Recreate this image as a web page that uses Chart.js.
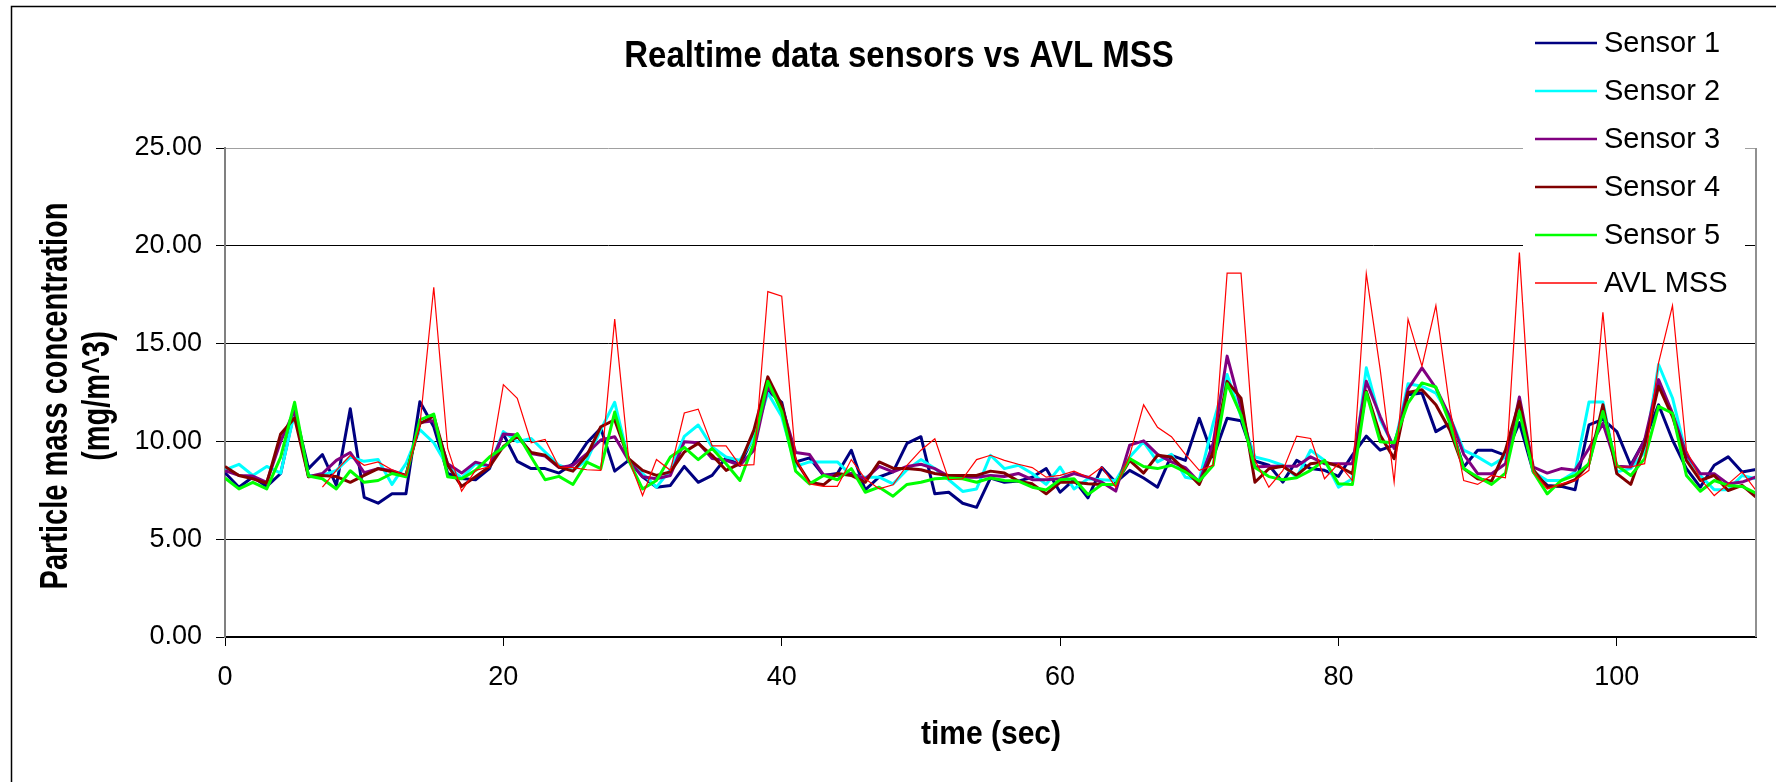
<!DOCTYPE html>
<html><head><meta charset="utf-8">
<script src="https://cdn.jsdelivr.net/npm/chart.js@4.4.0/dist/chart.umd.min.js"></script>
<style>html,body{margin:0;padding:0;background:#fff;overflow:hidden}canvas{display:block}</style>
</head><body>
<canvas id="c" width="1776" height="782"></canvas>
<script>
const times = [0,1,2,3,4,5,6,7,8,9,10,11,12,13,14,15,16,17,18,19,20,21,22,23,24,25,26,27,28,29,30,31,32,33,34,35,36,37,38,39,40,41,42,43,44,45,46,47,48,49,50,51,52,53,54,55,56,57,58,59,60,61,62,63,64,65,66,67,68,69,70,71,72,73,74,75,76,77,78,79,80,81,82,83,84,85,86,87,88,89,90,91,92,93,94,95,96,97,98,99,100,101,102,103,104,105,106,107,108,109,110];

const sensor1 = [8.40,7.66,8.18,7.70,8.36,11.60,8.61,9.33,7.75,11.67,
7.14,6.84,7.32,7.32,12.03,10.75,8.36,8.10,8.04,8.61,
10.38,8.98,8.61,8.61,8.38,8.86,9.93,10.67,8.48,9.03,
8.19,7.66,7.75,8.72,7.91,8.26,9.17,8.78,10.30,12.60,
12.00,8.95,9.16,8.26,8.36,9.55,7.52,8.18,8.44,9.90,
10.24,7.32,7.40,6.84,6.63,8.13,7.91,7.97,8.17,8.61,
7.40,8.04,7.11,8.66,7.91,8.52,8.13,7.66,9.29,9.03,
11.18,9.20,11.18,11.06,9.00,8.78,7.92,9.03,8.61,8.52,
8.21,9.30,10.27,9.55,9.81,12.39,12.47,10.50,10.92,8.69,
9.55,9.55,9.29,10.96,8.44,7.75,7.70,7.53,10.84,11.13,
10.50,8.78,10.07,11.87,10.07,8.61,7.66,8.78,9.21,8.44,
8.56];

const sensor2 = [8.55,8.83,8.26,8.72,8.38,11.48,8.26,8.26,8.52,9.20,
8.98,9.07,7.80,8.86,10.60,9.93,8.71,8.13,8.86,8.70,
10.50,9.98,10.15,9.46,8.78,8.52,9.03,10.60,12.00,9.03,
8.36,7.66,8.55,10.26,10.84,9.72,9.20,9.03,10.20,12.47,
11.27,8.72,8.95,8.95,8.95,8.26,8.17,8.17,7.83,8.55,
9.07,8.61,8.04,7.44,7.57,9.29,8.61,8.78,8.36,7.80,
8.69,7.57,8.09,8.04,8.00,9.20,9.98,8.95,9.34,8.17,
8.04,10.93,13.42,11.27,9.20,9.03,8.78,8.17,9.55,9.03,
7.66,8.09,13.76,11.10,9.72,12.95,12.82,12.47,11.27,9.55,
9.21,8.78,9.21,11.79,8.44,8.00,8.00,8.44,12.01,12.01,
8.44,8.61,9.46,13.93,12.22,9.29,8.26,7.53,7.53,8.26,
8.09];

const sensor3 = [8.50,8.26,8.23,7.91,10.00,11.60,8.20,8.36,9.03,9.43,
8.40,8.61,8.50,8.26,10.96,11.06,8.86,8.38,8.94,8.75,
10.38,10.33,9.38,9.25,8.66,8.78,9.38,10.07,10.24,9.03,
8.19,8.09,8.26,9.98,9.93,9.12,9.03,8.78,9.55,12.80,
11.80,9.43,9.33,8.29,8.26,8.36,8.09,8.72,8.44,8.72,
8.83,8.61,8.21,8.17,8.17,8.26,8.21,8.36,8.04,8.04,
8.09,8.36,8.17,7.91,7.46,9.81,10.03,9.34,8.95,8.66,
7.91,9.90,14.36,11.70,8.69,8.73,8.73,8.73,9.21,8.86,
8.86,8.86,13.07,11.27,9.64,12.68,13.76,12.73,11.27,9.34,
8.35,8.35,8.86,12.27,8.69,8.38,8.61,8.52,9.64,10.93,
8.73,8.69,10.07,13.16,11.44,9.34,8.35,8.35,7.83,7.92,
8.18];

const sensor4 = [8.72,8.26,8.09,7.86,10.38,11.20,8.19,8.26,8.20,7.91,
8.26,8.61,8.44,8.26,10.90,11.30,8.78,7.70,8.19,8.70,
9.74,10.26,9.43,9.29,8.69,8.48,9.29,10.75,11.10,9.12,
8.52,8.26,8.44,9.46,9.90,9.29,8.52,8.86,10.58,13.30,
11.87,9.03,7.91,7.78,8.36,8.26,7.91,8.95,8.63,8.61,
8.55,8.36,8.26,8.26,8.26,8.48,8.38,7.97,7.83,7.32,
7.91,7.91,7.83,7.80,7.80,9.03,8.38,9.29,9.20,8.52,
7.80,9.46,13.07,12.21,7.91,8.60,8.73,8.26,8.86,8.95,
8.73,8.35,12.56,10.32,9.12,12.50,12.64,11.87,10.58,8.61,
8.09,7.97,9.55,12.04,8.56,7.66,7.75,8.04,8.86,11.87,
8.35,7.80,9.81,12.82,11.27,9.03,8.00,8.26,7.49,7.75,
7.15];

const sensor5 = [8.13,7.57,7.91,7.57,9.20,12.00,8.23,8.09,7.57,8.50,
7.91,8.00,8.36,8.19,11.10,11.40,8.19,8.09,8.52,9.20,
9.69,10.40,9.20,8.04,8.21,7.80,8.94,8.61,11.50,9.03,
7.57,8.00,9.20,9.69,9.07,9.64,8.86,8.00,9.90,13.07,
11.52,8.48,7.83,8.26,8.04,8.61,7.40,7.66,7.20,7.80,
7.91,8.09,8.13,8.09,7.91,8.13,8.00,7.97,7.66,7.52,
8.04,8.09,7.28,7.80,7.80,9.12,8.72,8.61,8.78,8.44,
7.97,8.78,12.95,11.35,8.66,8.20,8.04,8.14,8.52,9.03,
7.83,7.80,12.50,9.98,9.93,11.96,12.99,12.78,10.93,8.61,
8.18,7.80,8.38,11.53,8.44,7.32,8.00,8.26,8.86,11.53,
8.78,8.26,9.12,11.79,11.44,8.26,7.45,8.00,7.75,7.70,
7.35];

const avlMss = [null,null,null,null,null,null,null,7.66,8.52,9.29,
8.78,8.95,8.55,8.26,10.80,17.88,9.64,7.46,8.52,8.70,
12.90,12.20,9.93,10.10,8.69,8.66,8.55,8.52,16.25,9.12,
7.23,9.07,8.52,11.45,11.65,9.77,9.77,8.78,8.81,17.66,
17.42,9.12,7.83,7.70,7.70,9.07,8.09,7.57,7.78,8.78,
9.55,10.13,8.04,8.09,9.07,9.29,9.03,8.83,8.66,8.17,
8.26,8.48,8.17,8.69,7.66,9.29,11.87,10.72,10.24,9.34,
8.52,8.78,18.60,18.60,9.03,7.66,8.50,10.27,10.15,8.09,
8.86,8.00,18.57,13.67,7.92,16.25,13.85,16.94,11.70,8.00,
7.80,8.26,8.14,19.65,8.44,7.57,7.83,8.00,8.52,16.60,
8.69,8.69,8.86,14.02,16.94,9.55,8.09,7.23,7.83,8.44,
7.49];

const seriesNames = ['Sensor 1','Sensor 2','Sensor 3','Sensor 4','Sensor 5','AVL MSS'];
const yTicks = [0,5,10,15,20,25];
const xTicks = [0,20,40,60,80,100];
const chartTitle = 'Realtime data sensors vs AVL MSS';
const xTitle = 'time (sec)';
const yTitle = ['Particle mass concentration','(mg/m^3)'];

const colors = ['#000080','#00FFFF','#800080','#800000','#00FF00','#FF0000'];
const widths = [3,3,3,3,3,1.2];
const seriesValues = [sensor1,sensor2,sensor3,sensor4,sensor5,avlMss];
const FONT = '"Liberation Sans", Arial, sans-serif';

const datasets = seriesValues.map((vals,i)=>({
  label: seriesNames[i],
  data: vals,
  borderColor: colors[i],
  backgroundColor: colors[i],
  borderWidth: widths[i],
  pointRadius: 0,
  pointHoverRadius: 0,
  tension: 0,
  fill: false,
  spanGaps: false,
  borderJoinStyle: i===5 ? 'miter' : 'round',
  order: 6 - i
}));

function stretchedText(ctx, text, x, y, font, sy, align, baseline, rot){
  ctx.save();
  ctx.translate(x,y);
  if(rot) ctx.rotate(rot);
  ctx.scale(1, sy);
  ctx.font = font;
  ctx.textAlign = align;
  ctx.textBaseline = baseline;
  ctx.fillStyle = '#000';
  ctx.fillText(text, 0, 0);
  ctx.restore();
}

const decor = {
  id: 'decor',
  beforeDraw(chart){
    const ctx = chart.ctx;
    ctx.save();
    ctx.fillStyle = '#fff';
    ctx.fillRect(0,0,chart.width,chart.height);
    ctx.strokeStyle = '#000';
    ctx.lineWidth = 1.5;
    ctx.beginPath();
    ctx.moveTo(11.5, chart.height);
    ctx.lineTo(11.5, 6.5);
    ctx.lineTo(chart.width, 6.5);
    ctx.stroke();
    ctx.restore();
  },
  afterDraw(chart){
    const ctx = chart.ctx;
    const a = chart.chartArea;
    ctx.save();
    ctx.strokeStyle = '#909090';
    ctx.lineWidth = 2;
    ctx.beginPath();
    ctx.moveTo(a.right, a.top);
    ctx.lineTo(a.right, a.bottom);
    ctx.stroke();
    ctx.fillStyle = '#fff';
    ctx.fillRect(1523, 14, 222, 288);
    const rows = [43, 91, 139, 187, 235, 283];
    seriesNames.forEach((n,i)=>{
      ctx.strokeStyle = colors[i];
      ctx.lineWidth = i===5 ? 1.3 : 2.5;
      ctx.beginPath();
      ctx.moveTo(1535, rows[i]);
      ctx.lineTo(1597, rows[i]);
      ctx.stroke();
      ctx.fillStyle = '#000';
      ctx.font = '29px ' + FONT;
      ctx.textAlign = 'left';
      ctx.textBaseline = 'middle';
      ctx.fillText(n, 1604, rows[i] + 1);
    });
    ctx.restore();
    stretchedText(ctx, chartTitle, 899, 57, 'bold 33px ' + FONT, 1.12, 'center', 'middle', 0);
    stretchedText(ctx, xTitle, 991, 735, 'bold 30px ' + FONT, 1.12, 'center', 'middle', 0);
    stretchedText(ctx, yTitle[0], 67, 396, 'bold 29px ' + FONT, 1.35, 'center', 'alphabetic', -Math.PI/2);
    stretchedText(ctx, yTitle[1], 109, 396, 'bold 29px ' + FONT, 1.35, 'center', 'alphabetic', -Math.PI/2);
  }
};

new Chart(document.getElementById('c'), {
  type: 'line',
  data: { labels: times, datasets },
  options: {
    responsive: false,
    animation: false,
    devicePixelRatio: 1,
    events: [],
    layout: { padding: { top: 148, right: 20, left: 0, bottom: 0 } },
    plugins: { legend: { display: false }, title: { display: false }, tooltip: { enabled: false } },
    scales: {
      x: {
        type: 'linear',
        min: 0, max: 110,
        afterBuildTicks: (s) => { s.ticks = xTicks.map(v => ({ value: v })); },
        afterFit: (s) => { s.height = 145; },
        ticks: { font: { family: FONT, size: 27 }, color: '#000', padding: 15, maxRotation: 0, autoSkip: false,
                 callback: (v) => String(v) },
        grid: { drawOnChartArea: false, drawTicks: true, tickLength: 9, color: '#000', lineWidth: 1 },
        border: { display: true, color: '#000', width: 2 }
      },
      y: {
        type: 'linear',
        min: 0, max: 25,
        afterBuildTicks: (s) => { s.ticks = yTicks.map(v => ({ value: v })); },
        afterFit: (s) => { s.width = 225; },
        ticks: { font: { family: FONT, size: 27 }, color: '#000', padding: 14,
                 callback: (v) => Number(v).toFixed(2) },
        grid: { color: (c) => (c.tick && c.tick.value === 25) ? '#a0a0a0' : '#000', lineWidth: 1,
                drawTicks: true, tickLength: 9, tickColor: '#000' },
        border: { display: true, color: '#808080', width: 2 }
      }
    }
  },
  plugins: [decor]
});
</script>
</body></html>
